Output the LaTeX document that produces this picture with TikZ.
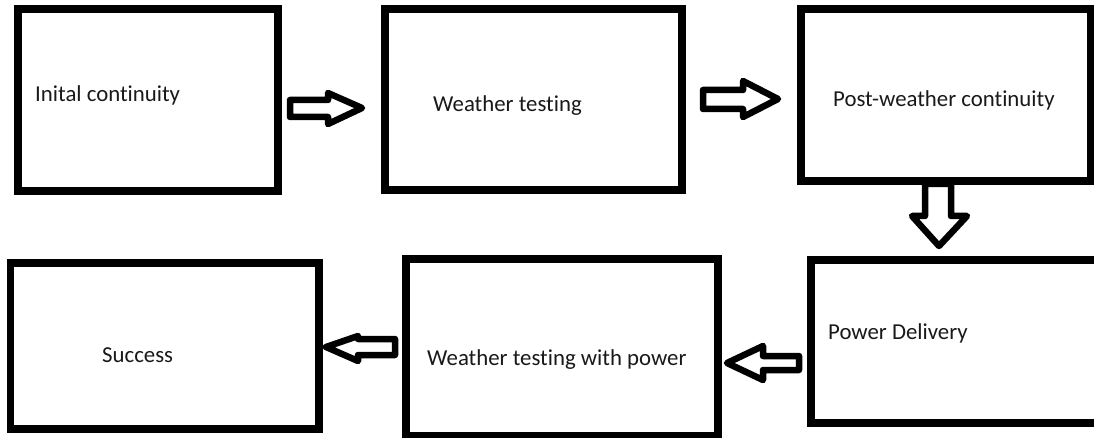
\documentclass[tikz,border=0pt]{standalone}
\usepackage{fontspec}
\setmainfont{Carlito}[Ligatures={NoCommon,NoRequired,NoContextual}]
\definecolor{txt}{RGB}{25,25,25}
\begin{document}
\begin{tikzpicture}[x=1pt,y=-1pt,
  box/.style={draw=black,line width=7.5pt,line join=miter},
  lbl/.style={anchor=base west,inner sep=0pt,text=txt,font=\fontsize{22.8}{27}\selectfont},
  blockarrow/.style={draw=black,fill=white,line width=6.5pt,line join=round}]
\clip (0,0) rectangle (1094,438);
\fill[white] (0,0) rectangle (1094,438);
% boxes
\draw[box] (18,9) rectangle (278,191);
\draw[box] (385,9) rectangle (682,190);
\draw[box] (801,9) rectangle (1091,181);
\draw[box] (811,260) rectangle (1110,423);
\draw[box] (406,259) rectangle (718,436);
\draw[box] (10.5,263) rectangle (319,429);
% labels
\node[lbl] (t1) at (35,102) {Inital continuity};
\node[lbl] (t2) at (433,111.5) {Weather testing};
\node[lbl] (t3) at (833,107) {Post-weather continuity};
\node[lbl] (t4) at (828,339) {Power Delivery};
\node[lbl] (t5) at (427,365) {Weather testing with power};
\node[lbl] (t6) at (102,362) {Success};
% block arrows
\draw[blockarrow] (290,100) -- (328,100) -- (328,93) -- (362,108) -- (328,124) -- (328,117) -- (290,117) -- cycle;
\draw[blockarrow] (703,90) -- (743,90) -- (743,81) -- (778,99) -- (743,117) -- (743,109) -- (703,109) -- cycle;
\draw[blockarrow] (925,184) -- (951,184) -- (951,216) -- (967,216) -- (939,246) -- (912,216) -- (925,216) -- cycle;
\draw[blockarrow] (395,339) -- (358,339) -- (358,336) -- (326,347) -- (358,361) -- (358,355) -- (395,355) -- cycle;
\draw[blockarrow] (799,356) -- (763,356) -- (763,346) -- (727,363) -- (763,380) -- (763,370) -- (799,370) -- cycle;
\end{tikzpicture}
\end{document}
